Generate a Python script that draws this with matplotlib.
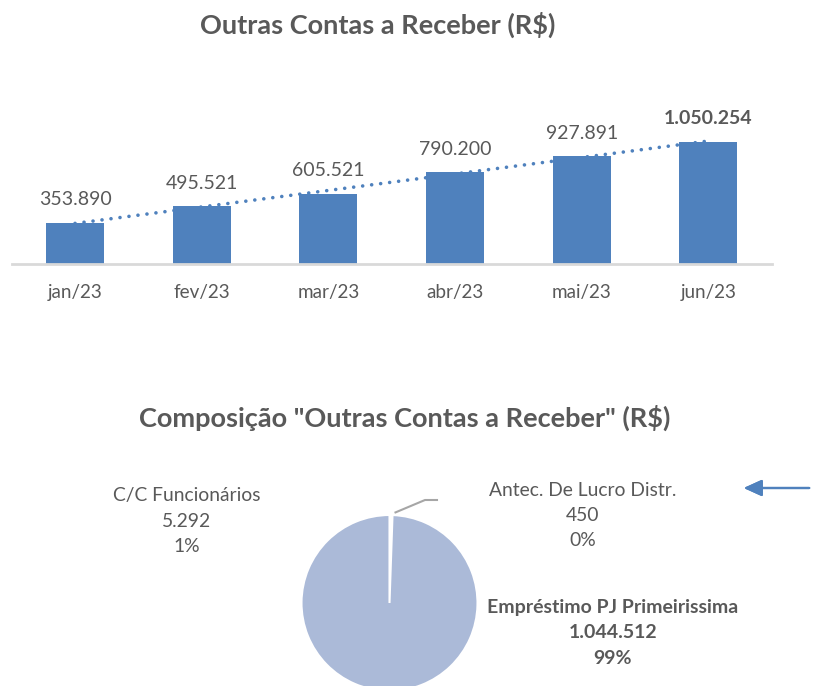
import numpy as np
import matplotlib.pyplot as plt

plt.rcParams['font.family'] = ['Lato', 'DejaVu Sans']

# data
meses = ['jan/23', 'fev/23', 'mar/23', 'abr/23', 'mai/23', 'jun/23']
saldos = [353890, 495521, 605521, 790200, 927891, 1050254]
rotulos_saldo = ['353.890', '495.521', '605.521', '790.200', '927.891', '1.050.254']

comp_nomes = ['C/C Funcionários', 'Antec. De Lucro Distr.', 'Empréstimo PJ Primeirissima']
comp_valores = [5292, 450, 1044512]
comp_rotulos = ['5.292', '450', '1.044.512']
comp_pct = ['1%', '0%', '99%']

W, H = 814, 686
cinza = '#595959'
azul = '#4f81bd'

fig = plt.figure(figsize=(W / 100, H / 100), dpi=100)


def px(x0, y0, x1, y1):
    # pixel box (top-left origin) -> figure fraction rect
    return [x0 / W, 1 - y1 / H, (x1 - x0) / W, (y1 - y0) / H]


# ---- bar chart ----
ax = fig.add_axes(px(11.7, 100, 771.7, 264))
x = np.arange(len(meses))
ax.bar(x, saldos, width=0.46, color=azul, zorder=2)
coef = np.polyfit(x, saldos, 1)
ax.plot(x, np.polyval(coef, x), linestyle=(0, (0.01, 2.5)), color=azul,
        linewidth=2.6, dash_capstyle='round', zorder=3)
for i, (v, t) in enumerate(zip(saldos, rotulos_saldo)):
    ax.annotate(t, (i, v), xytext=(0, 10.5), textcoords='offset points',
                ha='center', va='bottom', fontsize=14, color=cinza,
                fontweight='bold' if i == len(saldos) - 1 else 'normal')
ax.set_xlim(-0.5, len(meses) - 0.5)
ax.set_ylim(0, 1.411e6)
ax.set_xticks(x)
ax.set_xticklabels(meses, fontsize=13.6, color=cinza)
ax.tick_params(axis='x', length=0, pad=14.5)
ax.set_yticks([])
for s in ['top', 'left', 'right']:
    ax.spines[s].set_visible(False)
ax.spines['bottom'].set_color('#d9d9d9')
ax.spines['bottom'].set_linewidth(2)

fig.text(378 / W, 1 - 25 / H, 'Outras Contas a Receber (R$)', ha='center',
         va='center', fontsize=19.5, fontweight='bold', color=cinza)

# ---- pie chart ----
fig.text(405 / W, 1 - 418 / H, 'Composição "Outras Contas a Receber" (R$)',
         ha='center', va='center', fontsize=19.5, fontweight='bold', color=cinza)

cx, cy, r = 389.5, 603, 88
axp = fig.add_axes(px(cx - r, cy - r, cx + r, cy + r))
wedges, _ = axp.pie(comp_valores, startangle=90, counterclock=False,
                    colors=['#ffffff', '#ffffff', '#abbad8'],
                    wedgeprops=dict(edgecolor='white', linewidth=1.5))
axp.set_xlim(-1, 1)
axp.set_ylim(-1, 1)
axp.axis('off')

# leader line for the tiny slice
w = wedges[1]
ang = np.deg2rad((w.theta1 + w.theta2) / 2)
x0 = (cx + r * np.cos(ang) * 1.03 + 3) / W
y0 = 1 - (cy - r * np.sin(ang) * 1.03) / H
fig.add_artist(plt.Line2D([x0, 425 / W, 437 / W], [y0, 1 - 500 / H, 1 - 500 / H],
                          color='#a6a6a6', linewidth=1.5))

rot_pos = [(187, 496), (583, 490), (613, 607)]
rot_size = [13.9, 13.9, 14.0]
for k, (nome, val, pct) in enumerate(zip(comp_nomes, comp_rotulos, comp_pct)):
    lx, ly = rot_pos[k]
    fw = 'bold' if k == 2 else 'normal'
    for j, t in enumerate([nome, val, pct]):
        fig.text(lx / W, 1 - (ly + j * 25.5) / H, t, ha='center', va='center',
                 fontsize=rot_size[k], color=cinza, fontweight=fw)

# arrow
fig.add_artist(plt.annotate('', xy=(741 / W, 1 - 488 / H), xycoords='figure fraction',
                            xytext=(812 / W, 1 - 488 / H), textcoords='figure fraction',
                            arrowprops=dict(arrowstyle='-|>,head_length=1.1,head_width=0.5',
                                            color=azul, linewidth=1.6)))

fig.savefig('out.png', dpi=100)
